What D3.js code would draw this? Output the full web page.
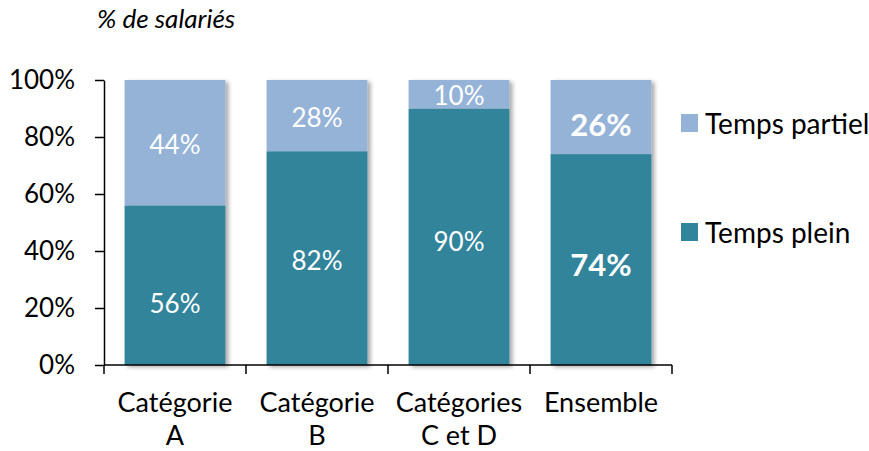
<!DOCTYPE html>
<html><head><meta charset="utf-8">
<script src="https://cdn.jsdelivr.net/npm/d3@7"></script>
<style>
body{margin:0;background:#fff;}
text{font-family:"Lato","Open Sans",sans-serif;}
</style></head>
<body><svg id="c" width="869" height="451"></svg>
<script>
const categories = [["Catégorie","A"],["Catégorie","B"],["Catégories","C et D"],["Ensemble"]];
const catKeys = ["A","B","CD","E"];
const tempsPlein = [56, 75, 90, 74];
const tempsPartiel = [44, 25, 10, 26];
const pleinLabels = ["56%","82%","90%","74%"];
const partielLabels = ["44%","28%","10%","26%"];
const boldLabel = [false,false,false,true];
const yTicks = [0,20,40,60,80,100];
const seriesNames = ["Temps partiel","Temps plein"];

const colPlein = "#31849B", colPartiel = "#95B3D7";
const svg = d3.select("#c");
const defs = svg.append("defs");
const f = defs.append("filter").attr("id","sh").attr("x","-10%").attr("y","-10%").attr("width","130%").attr("height","130%");
f.append("feDropShadow").attr("dx",3).attr("dy",2).attr("stdDeviation",2).attr("flood-color","#000").attr("flood-opacity",0.35);

const x = d3.scaleBand().domain(catKeys).range([104,672]).paddingInner(0.29).paddingOuter(0.145);
const y = d3.scaleLinear().domain([0,100]).range([365,80]);

// title
svg.append("text").attr("x",97).attr("y",28).attr("font-size",26).attr("font-style","italic").attr("fill","#000").text("% de salariés");

// y axis
const ya = svg.append("g").attr("transform","translate(104,0)")
  .call(d3.axisLeft(y).tickValues(yTicks).tickFormat(d=>d+"%").tickSize(9).tickSizeOuter(0));
ya.select(".domain").attr("stroke","#000").attr("stroke-width",1.5);
ya.selectAll(".tick line").attr("stroke","#000").attr("stroke-width",1.5);
ya.selectAll(".tick text").attr("font-size",26).attr("fill","#000").attr("x",-29).attr("font-family","Lato, 'Open Sans', sans-serif");

// bars
const g = svg.append("g");
catKeys.forEach((k,i)=>{
  const bg = g.append("g").attr("filter","url(#sh)");
  bg.append("rect").attr("x",x(k)).attr("width",x.bandwidth())
    .attr("y",y(tempsPlein[i])).attr("height",y(0)-y(tempsPlein[i])).attr("fill",colPlein);
  bg.append("rect").attr("x",x(k)).attr("width",x.bandwidth())
    .attr("y",y(tempsPlein[i]+tempsPartiel[i])).attr("height",y(tempsPlein[i])-y(tempsPlein[i]+tempsPartiel[i])).attr("fill",colPartiel);
});
// labels
const nudgePlein = [18,2,4,4], nudgePartiel = [1,1,1,7];
catKeys.forEach((k,i)=>{
  const cx = x(k)+x.bandwidth()/2;
  const cyP = (y(0)+y(tempsPlein[i]))/2 + nudgePlein[i];
  const cyT = (y(tempsPlein[i])+y(tempsPlein[i]+tempsPartiel[i]))/2 + nudgePartiel[i];
  [[pleinLabels[i],cyP],[partielLabels[i],cyT]].forEach(([t,cy])=>{
    svg.append("text").attr("x",cx).attr("y",cy).attr("text-anchor","middle").attr("dominant-baseline","central")
      .attr("font-size",boldLabel[i]?31:26).attr("font-weight",boldLabel[i]?"bold":"normal").attr("fill","#fff").text(t);
  });
});

// x axis
const xa = svg.append("g").attr("transform","translate(0,365)");
xa.append("line").attr("x1",104).attr("x2",672).attr("y1",0).attr("y2",0).attr("stroke","#000").attr("stroke-width",1.5);
const bounds = [104].concat(catKeys.map(k=>x(k)+x.bandwidth()+x.step()*x.paddingInner()/2));
bounds[bounds.length-1]=672;
bounds.forEach(b=>xa.append("line").attr("x1",b).attr("x2",b).attr("y1",0).attr("y2",9).attr("stroke","#000").attr("stroke-width",1.5));
catKeys.forEach((k,i)=>{
  const t = xa.append("text").attr("x",x(k)+x.bandwidth()/2).attr("y",47).attr("text-anchor","middle").attr("font-size",27).attr("fill","#000");
  categories[i].forEach((line,j)=>t.append("tspan").attr("x",x(k)+x.bandwidth()/2).attr("dy",j===0?0:33).text(line));
});

// legend
const lg = svg.append("g");
[[seriesNames[0],colPartiel,123],[seriesNames[1],colPlein,232]].forEach(([n,c,cy])=>{
  lg.append("rect").attr("x",681).attr("y",cy-9).attr("width",17).attr("height",18).attr("fill",c);
  lg.append("text").attr("x",705).attr("y",cy).attr("dominant-baseline","central").attr("font-size",28).attr("fill","#000").text(n);
});
</script></body></html>
